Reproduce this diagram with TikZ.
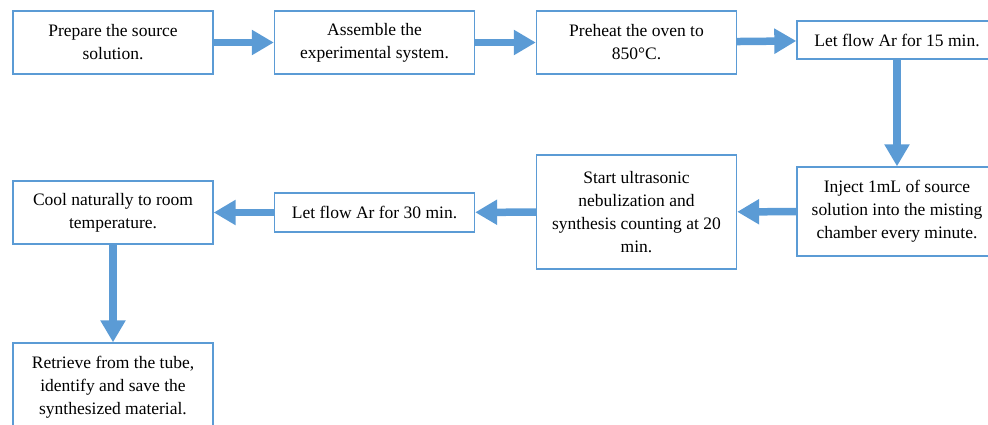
\documentclass[tikz,border=0pt]{standalone}
\usepackage{fontspec}
\setmainfont{Liberation Serif}
\usetikzlibrary{arrows.meta}
\definecolor{blu}{HTML}{5B9BD5}
\tikzset{
  box/.style={draw=blu, line width=1.4pt, fill=white, align=center, inner sep=2pt,
    font=\fontsize{17.5}{23}\selectfont, minimum width=200pt},
  flow/.style={draw=blu, line width=7.5pt, -{Triangle[width=24pt,length=22pt]}}
}
\begin{document}
\begin{tikzpicture}[x=1pt,y=-1pt]
\useasboundingbox (0,0) rectangle (988,425);
\clip (0,0) rectangle (988,425);
\node[box, minimum height=63pt] (b1) at (113,42.5) {Prepare the source\\solution.};
\node[box, minimum height=63pt] (b2) at (374.5,42.5) {Assemble the\\experimental system.};
\node[box, minimum height=63pt] (b3) at (636.5,42.5) {Preheat the oven to\\850°C.};
\node[box, minimum height=38pt] (b4) at (897,40) {Let flow Ar for 15 min.};
\node[box, minimum height=89pt] (b5) at (897,211.5) {Inject 1mL of source\\solution into the misting\\chamber every minute.};
\node[box, minimum height=114pt] (b6) at (636.5,212) {Start ultrasonic\\nebulization and\\synthesis counting at 20\\min.};
\node[box, minimum height=39pt] (b7) at (374.5,212.5) {Let flow Ar for 30 min.};
\node[box, minimum height=63pt] (b8) at (113,212.5) {Cool naturally to room\\temperature.};
\node[box, minimum height=89pt] (b9) at (113,387.5) {Retrieve from the tube,\\identify and save the\\synthesized material.};
\draw[flow] (b1) -- (b2);
\draw[flow] (b2) -- (b3);
\draw[flow] (b3) -- (b4);
\draw[flow] (b4) -- (b5);
\draw[flow] (b5) -- (b6);
\draw[flow] (b6) -- (b7);
\draw[flow] (b7) -- (b8);
\draw[flow] (b8) -- (b9);
\end{tikzpicture}
\end{document}
